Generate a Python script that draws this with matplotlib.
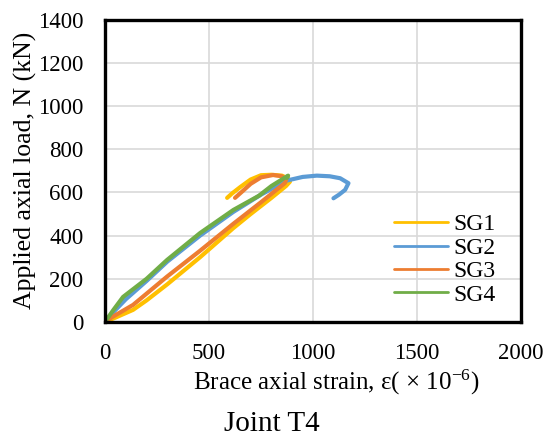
import numpy as np
import matplotlib.pyplot as plt

plt.rcParams['font.family'] = ['Liberation Serif', 'DejaVu Serif']
plt.rcParams['mathtext.fontset'] = 'custom'
plt.rcParams['mathtext.rm'] = 'Liberation Serif'
plt.rcParams['mathtext.it'] = 'Liberation Serif:italic'
plt.rcParams['ytick.major.pad'] = 15.6
plt.rcParams['xtick.major.pad'] = 15

# strain (x10^-6) and load (kN)
sg1_x = [0, 50, 135, 200, 300, 457, 617, 700, 800, 870, 889, 880, 850, 800, 750, 700, 650, 610, 587]
sg1_y = [0, 20, 56, 100, 175, 300, 435, 500, 575, 630, 650, 665, 678, 682, 680, 660, 625, 595, 575]

sg2_x = [0, 50, 100, 200, 300, 457, 617, 750, 873, 950, 1018, 1080, 1130, 1170, 1154, 1125, 1098]
sg2_y = [0, 55, 105, 190, 280, 400, 510, 590, 655, 672, 678, 675, 666, 643, 612, 590, 573]

sg3_x = [0, 30, 135, 298, 457, 617, 750, 865, 870, 850, 808, 750, 700, 660, 625]
sg3_y = [0, 20, 79, 210, 330, 455, 555, 644, 660, 675, 681, 670, 640, 605, 575]

sg4_x = [0, 40, 87, 200, 298, 457, 617, 731, 740, 800, 850, 880, 875]
sg4_y = [0, 55, 116, 200, 287, 412, 519, 580, 585, 630, 660, 678, 668]

series = [('SG1', sg1_x, sg1_y, '#FFC000'),
          ('SG2', sg2_x, sg2_y, '#5B9BD5'),
          ('SG3', sg3_x, sg3_y, '#ED7D31'),
          ('SG4', sg4_x, sg4_y, '#70AD47')]

fig = plt.figure(figsize=(5.44, 4.41), dpi=100)
ax = fig.add_axes([0.193, 0.270, 0.765, 0.685])

for name, x, y, c in series:
    ax.plot(x, y, color=c, lw=3, label=name, solid_capstyle='round')

ax.set_xlim(0, 2000)
ax.set_ylim(0, 1400)
ax.set_xticks(np.arange(0, 2001, 500))
ax.set_yticks(np.arange(0, 1401, 200))
ax.grid(True, color='#d9d9d9', lw=1.2)
ax.set_axisbelow(True)
for s in ax.spines.values():
    s.set_linewidth(2.4)
    s.set_color('black')
ax.tick_params(length=0, labelsize=16.5)

ax.set_ylabel('Applied axial load, N (kN)', fontsize=18.5, va='center')
ax.yaxis.set_label_coords(-0.19, 0.503)
ax.set_xlabel('Brace axial strain, ε( × 10$^{-6}$)', fontsize=18, va='baseline')
ax.xaxis.set_label_coords(0.555, -0.225)

leg = ax.legend(loc='upper left', frameon=False, fontsize=17, handlelength=2.3,
                handletextpad=0.22, labelspacing=0.08, borderpad=0, borderaxespad=0,
                bbox_to_anchor=(0.724, 0.515), bbox_transform=fig.transFigure)
for line in leg.get_lines():
    line.set_linewidth(2)

fig.text(0.5, 0.0227, 'Joint T4', ha='center', va='baseline', fontsize=21)

fig.savefig('out.png', dpi=100)
